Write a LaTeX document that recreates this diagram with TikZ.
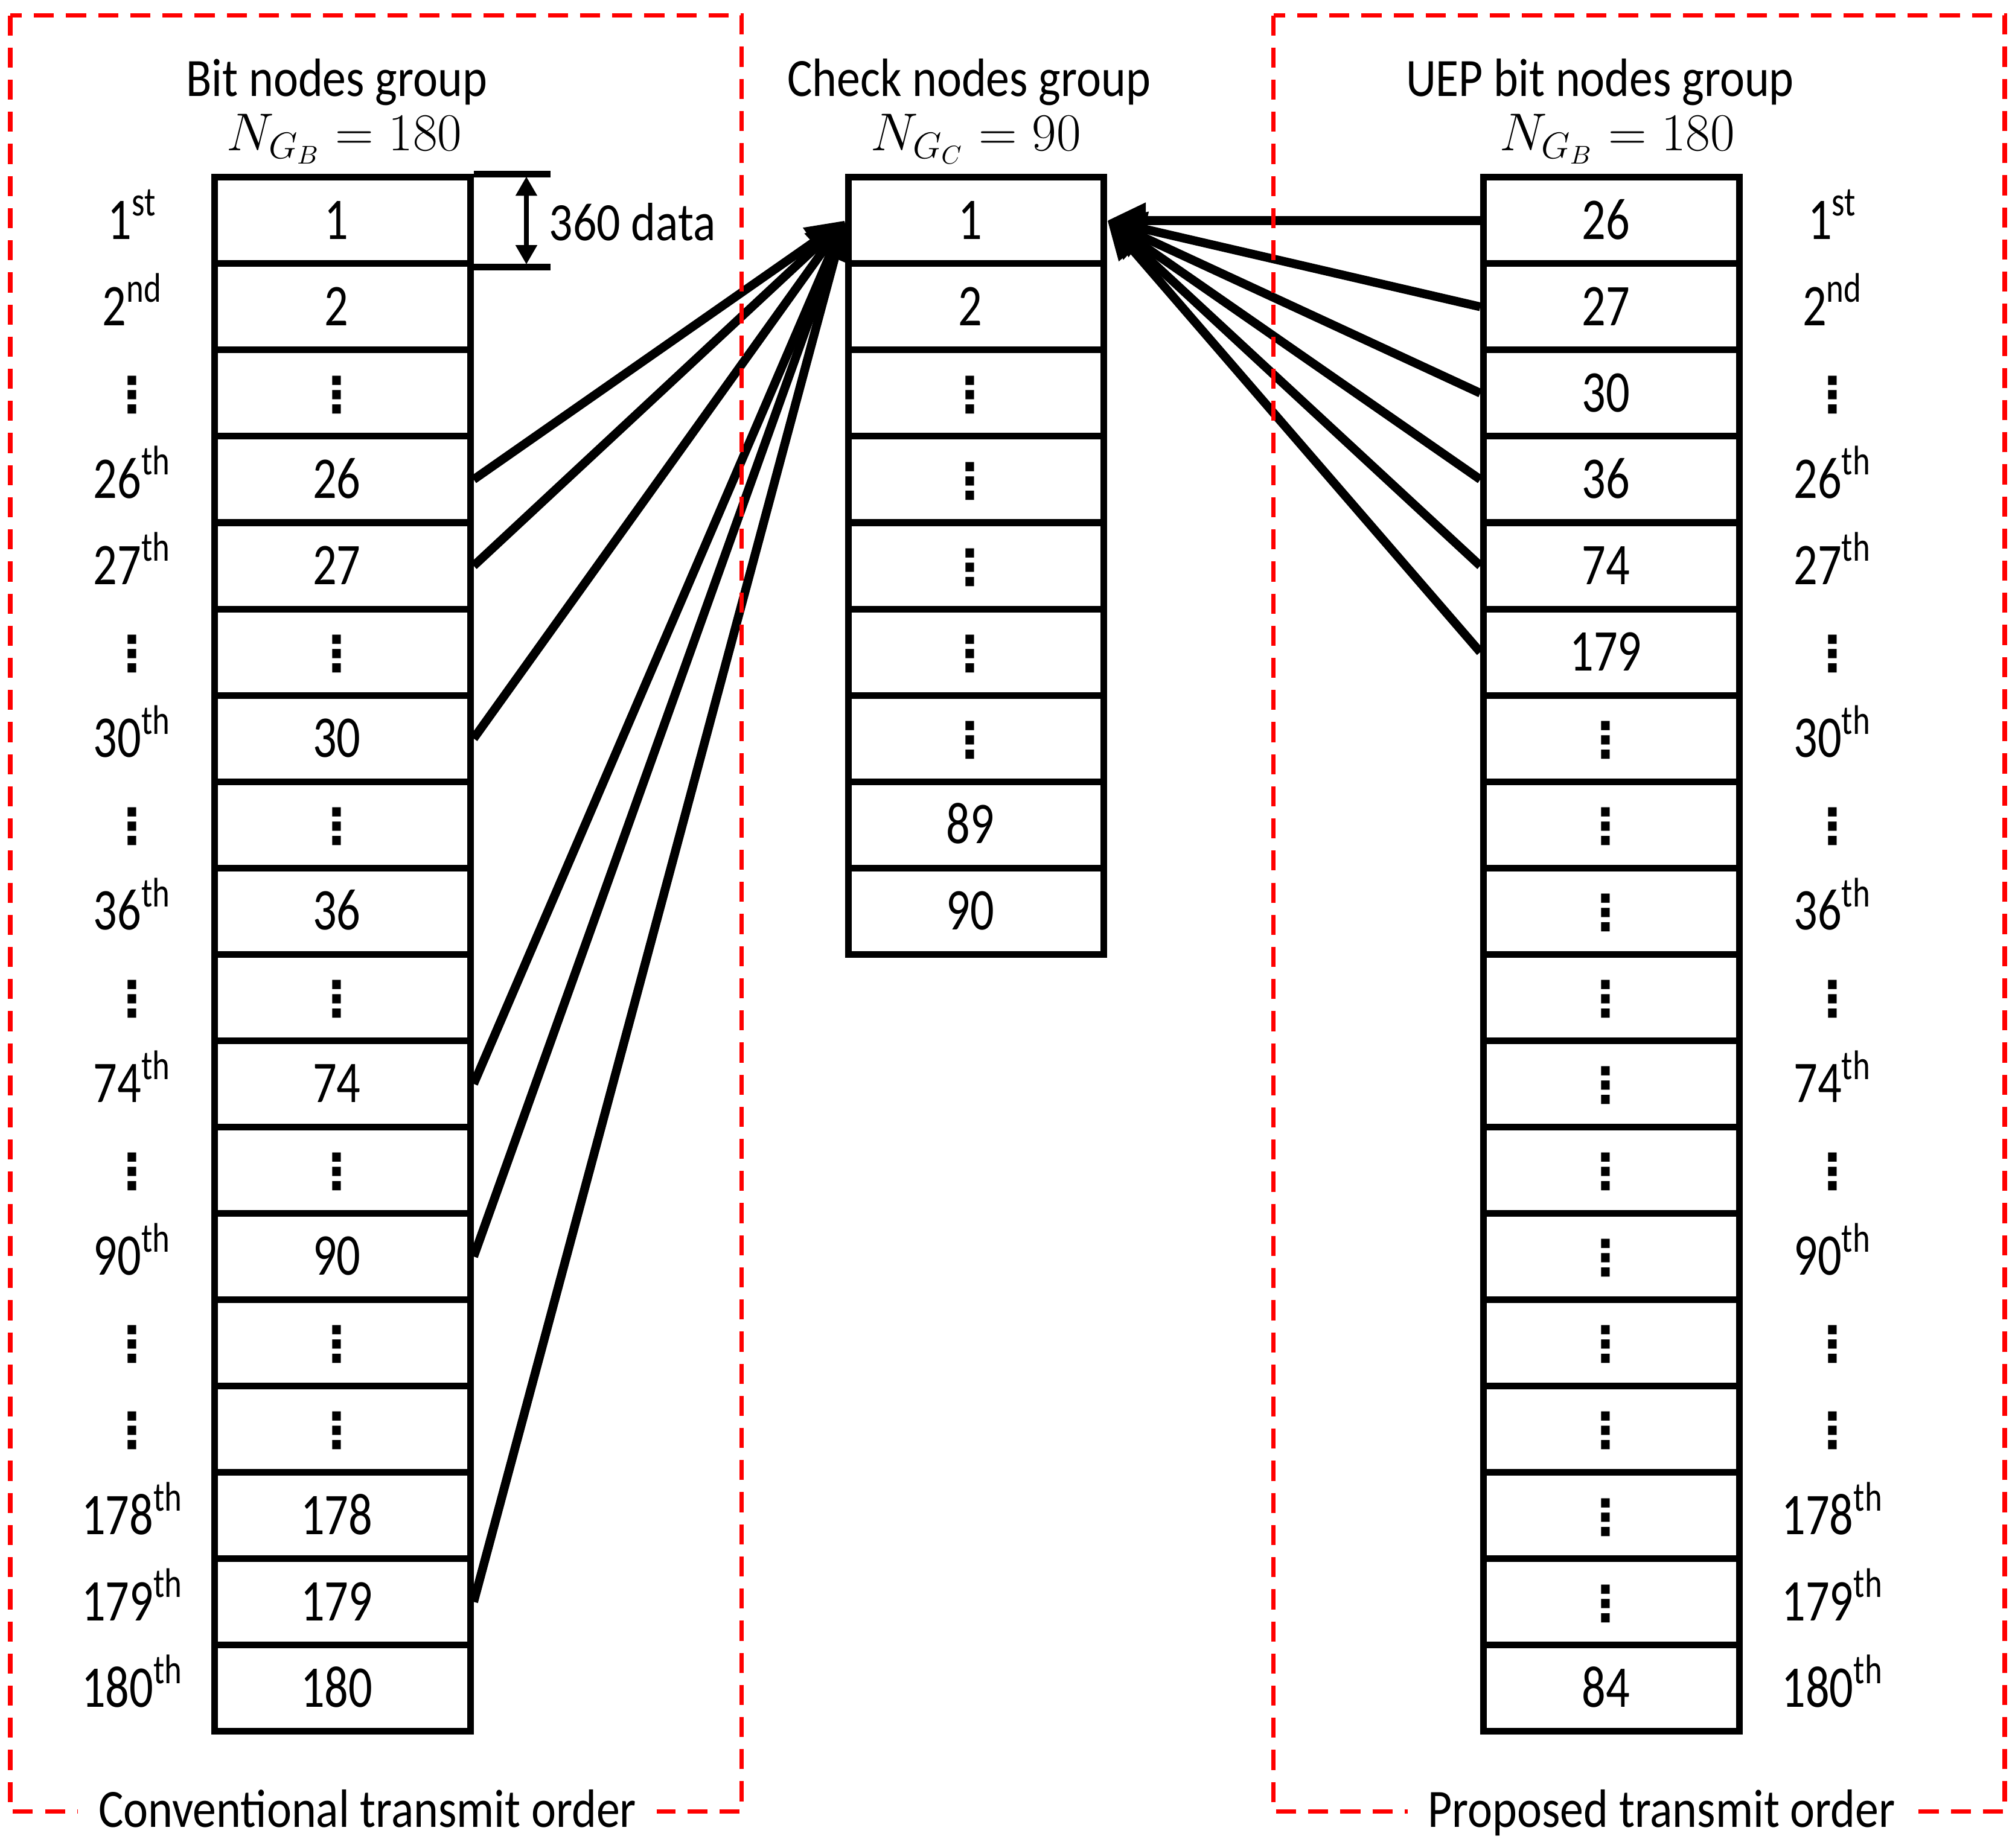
\documentclass[tikz,border=0pt]{standalone}
\usepackage[no-math]{fontspec}
\setmainfont{Carlito}
\newfontfamily\numfont{Carlito}[FakeStretch=0.8]
\newfontfamily\hdfont{Carlito}[FakeStretch=0.87]
\newfontfamily\dotfont{DejaVu Sans}
\usetikzlibrary{arrows.meta,calc}
\newcommand\vd{{\fontsize{19}{19}\dotfont\bfseries ⋮}}
\newcommand\ord[2]{#1\textsuperscript{#2}}
\begin{document}
\begin{tikzpicture}[x=0.5pt,y=-0.5pt,
  cell/.style={draw,line width=2.6pt,minimum width=99.5pt,minimum height=33.6pt,inner sep=0pt,text height=14.5pt,text depth=0pt,font=\fontsize{23}{27}\numfont},
  ordl/.style={inner sep=0pt,text height=14.5pt,text depth=0pt,font=\fontsize{23}{27}\numfont},
  hd/.style={inner sep=0pt,font=\fontsize{21}{25}\hdfont},
  hdm/.style={inner sep=0pt,font=\fontsize{20}{24}\selectfont},
  conn/.style={line width=3.4pt,-{Triangle[length=15pt,width=13pt]}},
  redbox/.style={draw=red,line width=1.7pt,dash pattern=on 7.8pt off 4.7pt},
  tickline/.style={line width=2.6pt},
  dimarrow/.style={line width=1.8pt,{Triangle[length=7.5pt,width=8pt]}-{Triangle[length=7.5pt,width=8pt]}}
]
\useasboundingbox (0,0) rectangle (1568,1438);

% headers
\node[hd,anchor=base] (hL) at (262,75) {Bit nodes group};
\node[hdm,anchor=base] (mL) at (268,117) {$N_{G_B} = 180$};
\node[hd,anchor=base] (hM) at (754,75) {Check nodes group};
\node[hdm,anchor=base] (mM) at (759.5,117) {$N_{G_C} = 90$};
\node[hd,anchor=base] (hR) at (1245,75) {UEP bit nodes group};
\node[hdm,anchor=base] (mR) at (1258.5,117) {$N_{G_B} = 180$};

% left column
\foreach \t [count=\i] in {1,2,\vd,26,27,\vd,30,\vd,36,\vd,74,\vd,90,\vd,\vd,178,179,180}
  \node[cell] (L\i) at (266.5,104.4+67.2*\i) {\t\kern4.5pt};
% middle column
\foreach \t [count=\i] in {1,2,\vd,\vd,\vd,\vd,\vd,89,90}
  \node[cell] (M\i) at (759.5,104.4+67.2*\i) {\t\kern4.5pt};
% right column
\foreach \t [count=\i] in {26,27,30,36,74,179,\vd,\vd,\vd,\vd,\vd,\vd,\vd,\vd,\vd,\vd,\vd,84}
  \node[cell] (R\i) at (1254,104.4+67.2*\i) {\t\kern4.5pt};

% ordinal labels
\foreach \t [count=\i] in {\ord{1}{st},\ord{2}{nd},\vd,\ord{26}{th},\ord{27}{th},\vd,\ord{30}{th},\vd,\ord{36}{th},\vd,\ord{74}{th},\vd,\ord{90}{th},\vd,\vd,\ord{178}{th},\ord{179}{th},\ord{180}{th}}
{
  \node[ordl] (OL\i) at (103,104.4+67.2*\i) {\t};
  \node[ordl] (OR\i) at (1426,104.4+67.2*\i) {\t};
}

% 360 data marker
\coordinate (dT) at ($(L1.north east)+(60,0)$);
\coordinate (dB) at ($(L1.south east)+(60,0)$);
\draw[tickline] (L1.north east) -- (dT);
\draw[tickline] (L1.south east) -- (dB);
\coordinate (aT) at ($(L1.north east)+(41,2)$);
\coordinate (aB) at ($(L1.south east)+(41,-2)$);
\draw[dimarrow] (aT) -- (aB);
\node[hd,anchor=west,text height=12pt,text depth=0pt] (dl) at (427,175) {360 data};

% connectors
\foreach \s in {4,5,7,11,13,17}
  \draw[conn] (L\s.east) -- (M1.west);
\foreach \s in {1,...,6}
  \draw[conn] (R\s.west) -- (M1.east);

% red dashed frames
\draw[redbox] (8,12) rectangle (577,1410);
\draw[redbox] (991,12) rectangle (1560,1410);
\node[hd,anchor=base,fill=white,inner xsep=8pt,inner ysep=4pt] (cto) at (286,1422) {Conventional transmit order};
\node[hd,anchor=base,fill=white,inner xsep=8pt,inner ysep=4pt] (pto) at (1293,1422) {Proposed transmit order};
\end{tikzpicture}
\end{document}
